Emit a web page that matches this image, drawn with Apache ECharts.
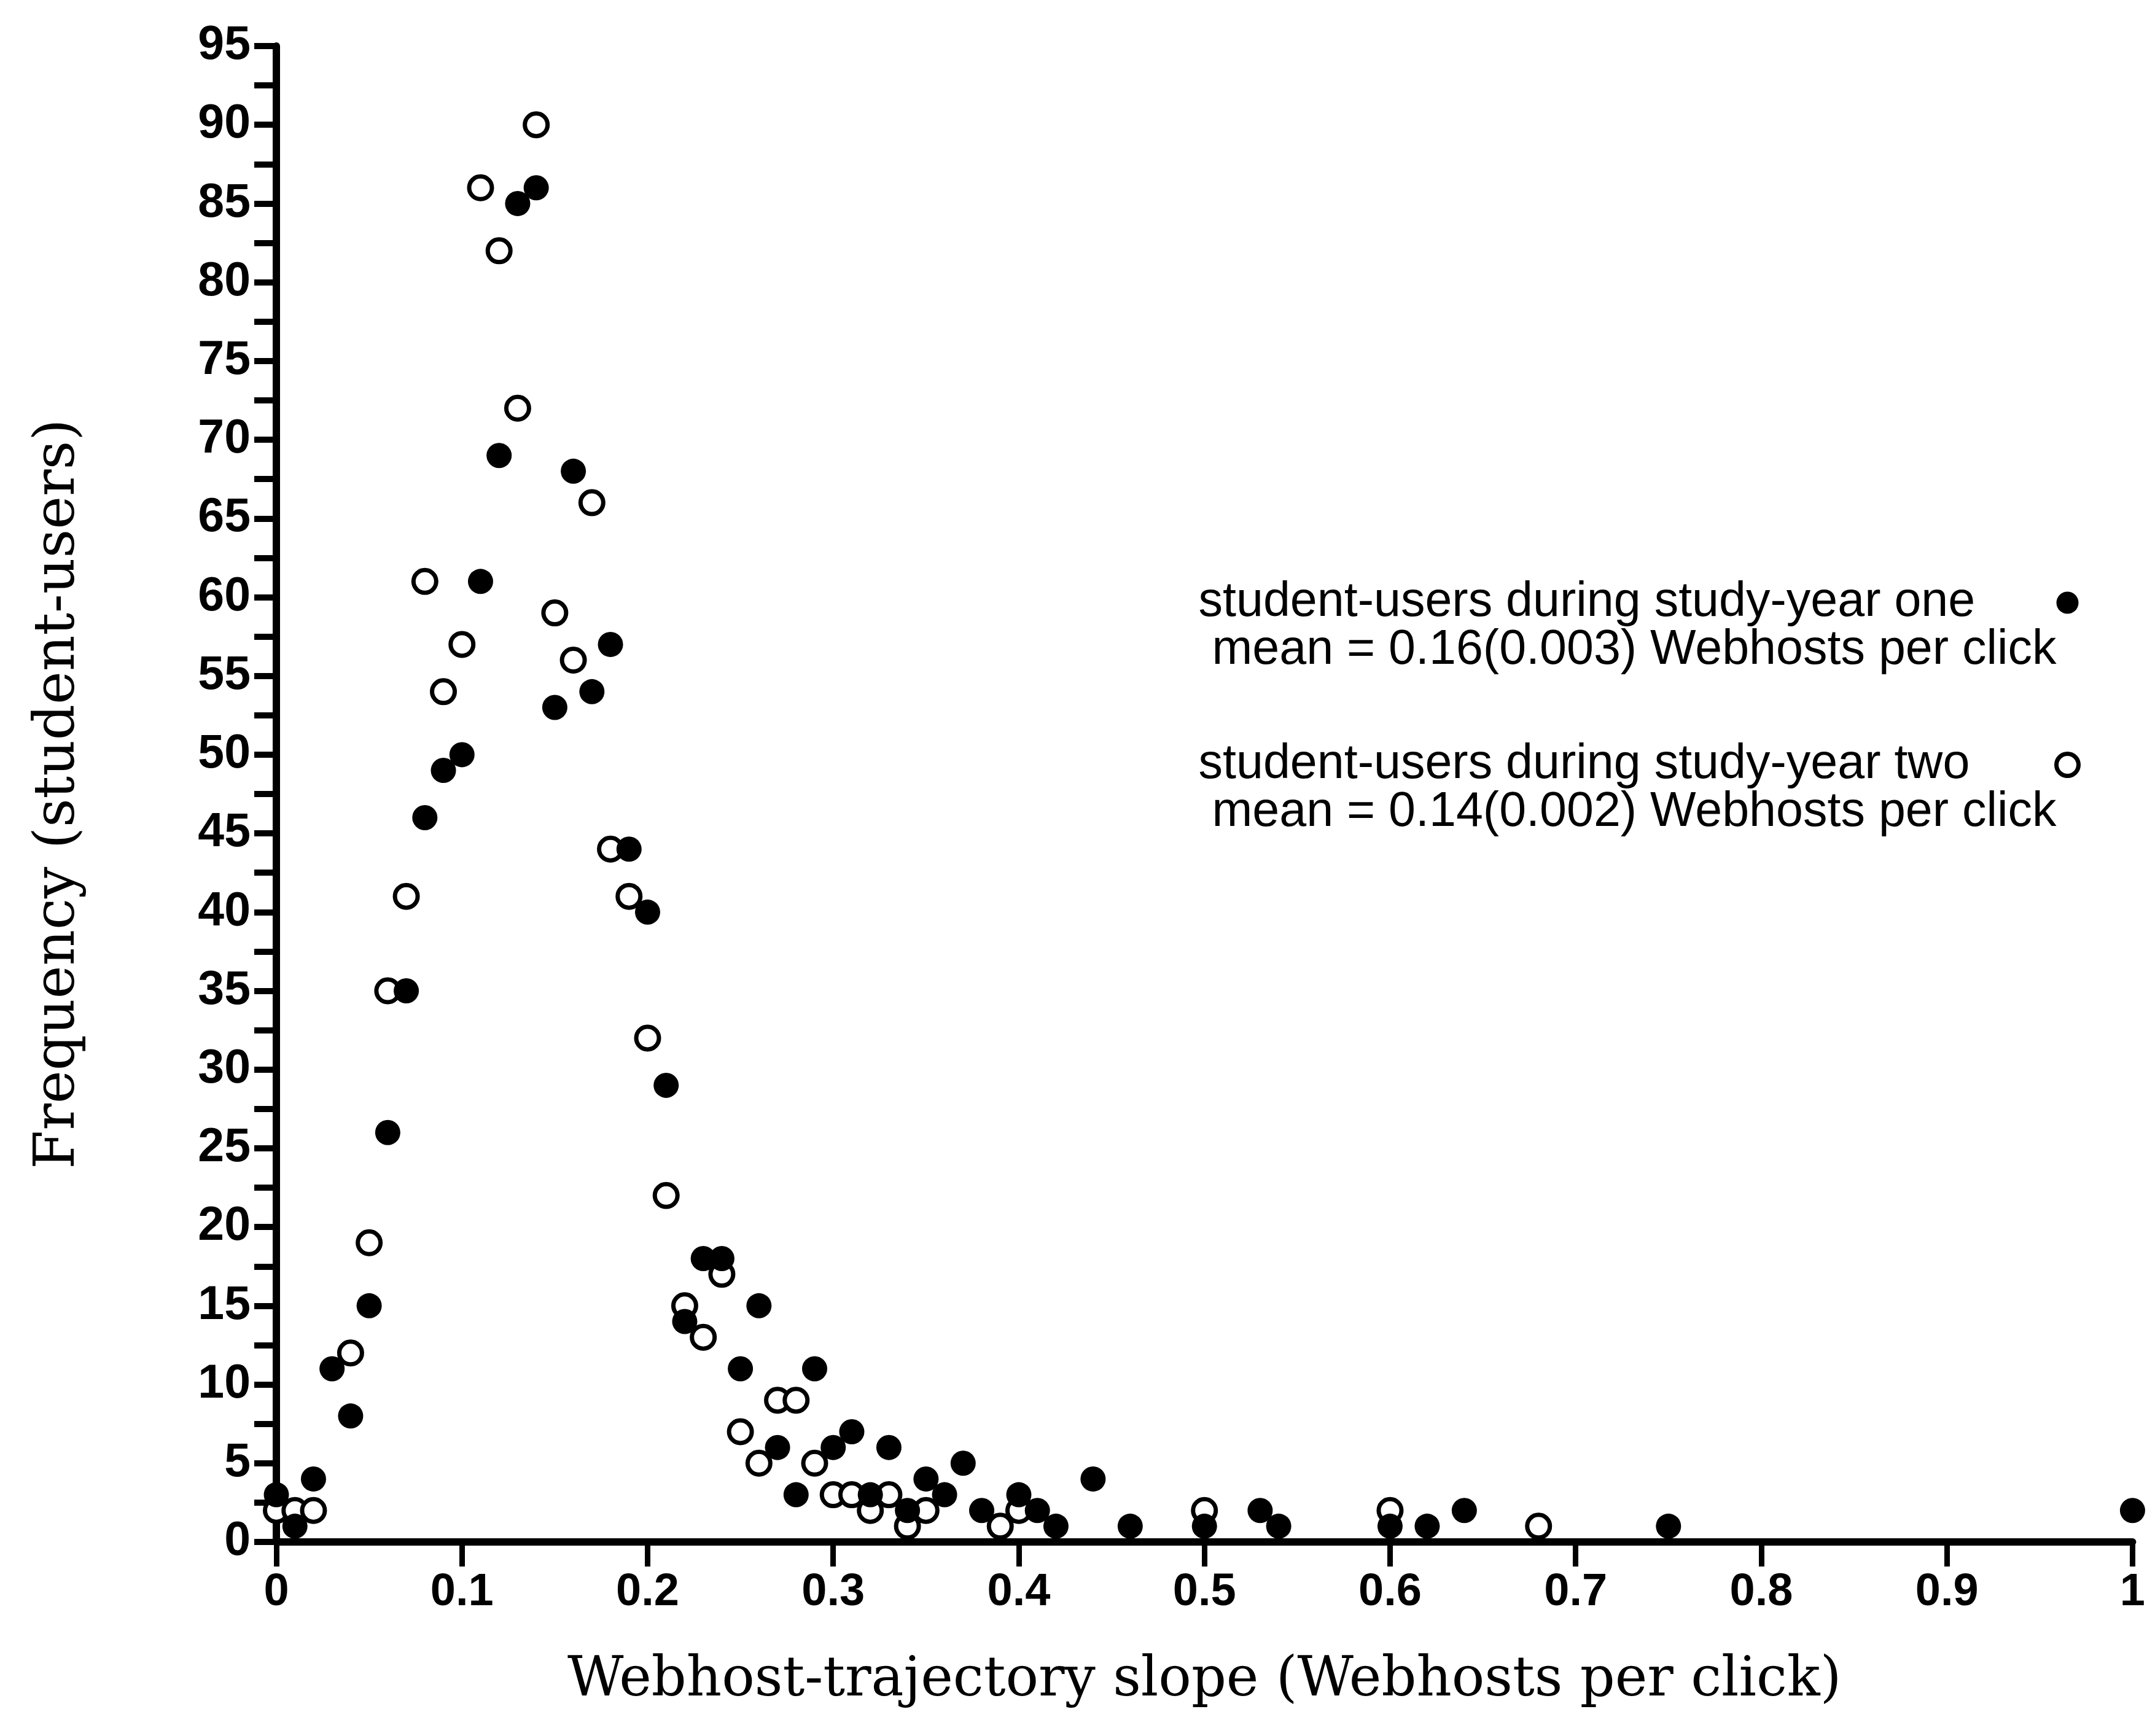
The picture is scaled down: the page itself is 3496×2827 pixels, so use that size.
<!DOCTYPE html>
<html>
<head>
<meta charset="utf-8">
<script src="https://cdn.jsdelivr.net/npm/echarts@6/dist/echarts.min.js"></script>
<style>
  html, body { margin: 0; padding: 0; background: #ffffff; }
  #chart { width: 3496px; height: 2827px; }
</style>
</head>
<body>
<div id="chart"></div>
<script>
// Webhost-trajectory slope bins (Webhosts per click) and number of student-users in each bin
const yearOneSlopes = [0.00, 0.01, 0.02, 0.03, 0.04, 0.05, 0.06, 0.07, 0.08, 0.09,
                       0.10, 0.11, 0.12, 0.13, 0.14, 0.15, 0.16, 0.17, 0.18, 0.19,
                       0.20, 0.21, 0.22, 0.23, 0.24, 0.25, 0.26, 0.27, 0.28, 0.29,
                       0.30, 0.31, 0.32, 0.33, 0.34, 0.35, 0.36, 0.37, 0.38, 0.40,
                       0.41, 0.42, 0.44, 0.46, 0.50, 0.53, 0.54, 0.60, 0.62, 0.64,
                       0.75, 1.00];
const yearOneCounts = [3, 1, 4, 11, 8, 15, 26, 35, 46, 49,
                       50, 61, 69, 85, 86, 53, 68, 54, 57, 44,
                       40, 29, 14, 18, 18, 11, 15, 6, 3, 11,
                       6, 7, 3, 6, 2, 4, 3, 5, 2, 3,
                       2, 1, 4, 1, 1, 2, 1, 1, 1, 2,
                       1, 2];

const yearTwoSlopes = [0.00, 0.01, 0.02, 0.04, 0.05, 0.06, 0.07, 0.08, 0.09, 0.10,
                       0.11, 0.12, 0.13, 0.14, 0.15, 0.16, 0.17, 0.18, 0.19, 0.20,
                       0.21, 0.22, 0.23, 0.24, 0.25, 0.26, 0.27, 0.28, 0.29, 0.30,
                       0.31, 0.32, 0.33, 0.34, 0.35, 0.39, 0.40, 0.50, 0.60, 0.68];
const yearTwoCounts = [2, 2, 2, 12, 19, 35, 41, 61, 54, 57,
                       86, 82, 72, 90, 59, 56, 66, 44, 41, 32,
                       22, 15, 13, 17, 7, 5, 9, 9, 5, 3,
                       3, 2, 3, 1, 2, 1, 2, 2, 2, 1];

// axis ranges and tick steps
const xRange = [0, 1];
const xStep = 0.1;
const yRange = [0, 95];
const yTickStep = 2.5;
const yLabelStep = 5;

// legend wording
const seriesNames = ['student-users during study-year one', 'student-users during study-year two'];
const seriesMeans = [' mean = 0.16(0.003) Webhosts per click', ' mean = 0.14(0.002) Webhosts per click'];

const axisTitleX = 'Webhost-trajectory slope (Webhosts per click)';
const axisTitleY = 'Frequency (student-users)';

const pairs = (xs, ys) => xs.map((x, i) => [x, ys[i]]);

const sansFont = '"Liberation Sans", Arial, Helvetica, sans-serif';
const serifFont = '"DejaVu Serif", "Liberation Serif", serif';

const filledStyle = { color: '#000000', opacity: 1 };
const openStyle = { color: '#ffffff', borderColor: '#000000', borderWidth: 7, opacity: 1 };

const chart = echarts.init(document.getElementById('chart'), null, { renderer: 'canvas' });

chart.setOption({
  backgroundColor: '#ffffff',
  animation: false,
  grid: { left: 450, top: 75, right: 12, bottom: 316, containLabel: false },
  xAxis: {
    type: 'value',
    min: xRange[0],
    max: xRange[1],
    interval: xStep,
    splitLine: { show: false },
    axisLine: { show: true, onZero: false, lineStyle: { color: '#000', width: 12 } },
    axisTick: { show: true, inside: false, length: 40, lineStyle: { color: '#000', width: 9 } },
    axisLabel: {
      color: '#000', fontFamily: sansFont, fontWeight: 'bold', fontSize: 74, margin: 46,
      formatter: v => String(Math.round(v * 10) / 10)
    },
    name: axisTitleX,
    nameLocation: 'middle',
    nameGap: 182,
    nameTextStyle: { color: '#000', fontFamily: serifFont, fontSize: 89 }
  },
  yAxis: {
    type: 'value',
    min: yRange[0],
    max: yRange[1],
    interval: yTickStep,
    splitLine: { show: false },
    axisLine: { show: true, lineStyle: { color: '#000', width: 12 } },
    axisTick: { show: true, inside: false, length: 36, lineStyle: { color: '#000', width: 10 } },
    axisLabel: {
      color: '#000', fontFamily: sansFont, fontWeight: 'bold', fontSize: 77, margin: 42,
      formatter: v => (Math.abs(v % yLabelStep) < 1e-9 ? String(v) : '')
    },
    name: axisTitleY,
    nameLocation: 'middle',
    nameGap: 308,
    nameRotate: 90,
    nameTextStyle: { color: '#000', fontFamily: serifFont, fontSize: 91 }
  },
  legend: {
    show: true,
    orient: 'vertical',
    align: 'right',
    right: 108,
    top: 864,
    padding: 0,
    itemGap: 29,
    itemWidth: 36,
    itemHeight: 36,
    selectedMode: false,
    data: [
      { name: seriesNames[0], icon: 'circle', itemStyle: filledStyle },
      { name: seriesNames[1], icon: 'circle', itemStyle: openStyle }
    ],
    formatter: name => {
      const i = seriesNames.indexOf(name);
      return '{t| }\n{t|' + seriesNames[i] + '}\n{t|' + seriesMeans[i] + '}';
    },
    textStyle: {
      color: '#000',
      fontFamily: sansFont,
      fontSize: 79,
      rich: {
        t: { fontFamily: sansFont, fontSize: 79, color: '#000', lineHeight: 78, width: 1392, align: 'left' }
      }
    }
  },
  series: [
    {
      name: seriesNames[1],
      type: 'scatter',
      clip: false,
      symbol: 'circle',
      symbolSize: 37,
      itemStyle: openStyle,
      data: pairs(yearTwoSlopes, yearTwoCounts),
      z: 2
    },
    {
      name: seriesNames[0],
      type: 'scatter',
      clip: false,
      symbol: 'circle',
      symbolSize: 41,
      itemStyle: filledStyle,
      data: pairs(yearOneSlopes, yearOneCounts),
      z: 3
    }
  ]
});
</script>
</body>
</html>
